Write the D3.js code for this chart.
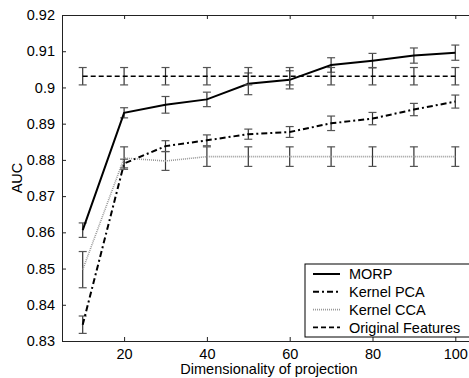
<!DOCTYPE html>
<html>
<head>
<meta charset="utf-8">
<script src="https://cdn.jsdelivr.net/npm/d3@7"></script>
<style>
  body { margin: 0; background: #fff; }
  svg { display: block; font-family: "Liberation Sans", Arial, sans-serif; }
</style>
</head>
<body>
<div id="container"></div>
<script>
// data
const dims = [10, 20, 30, 40, 50, 60, 70, 80, 90, 100];
const morp     = [0.8606, 0.8930, 0.8952, 0.8967, 0.9010, 0.9021, 0.9062, 0.9074, 0.9088, 0.9096];
const morpErr  = [0.0020, 0.0014, 0.0023, 0.0020, 0.0030, 0.0025, 0.0020, 0.0020, 0.0021, 0.0021];
const kpca     = [0.8345, 0.8790, 0.8838, 0.8854, 0.8871, 0.8877, 0.8901, 0.8914, 0.8939, 0.8961];
const kpcaErr  = [0.0024, 0.0012, 0.0015, 0.0015, 0.0014, 0.0015, 0.0020, 0.0017, 0.0017, 0.0018];
const kcca     = [0.8497, 0.8805, 0.8797, 0.8809, 0.8809, 0.8809, 0.8809, 0.8809, 0.8809, 0.8809];
const kccaErr  = [0.0050, 0.0031, 0.0026, 0.0027, 0.0027, 0.0027, 0.0027, 0.0027, 0.0027, 0.0027];
const orig     = [0.9031, 0.9031, 0.9031, 0.9031, 0.9031, 0.9031, 0.9031, 0.9031, 0.9031, 0.9031];
const origErr  = [0.0024, 0.0024, 0.0024, 0.0024, 0.0024, 0.0024, 0.0024, 0.0024, 0.0024, 0.0024];
const xTicks = [20, 40, 60, 80, 100];
const yTicks = [0.83, 0.84, 0.85, 0.86, 0.87, 0.88, 0.89, 0.9, 0.91, 0.92];
const legendNames = ["MORP", "Kernel PCA", "Kernel CCA", "Original Features"];

const WIDTH = 469, HEIGHT = 378;
const margin = { top: 15, left: 62, bottom: 37, right: -7 };
const width = WIDTH - margin.left - margin.right,
      height = HEIGHT - margin.top - margin.bottom;

const svg = d3.select('#container').append('svg')
    .attr('width', WIDTH).attr('height', HEIGHT);

const g = svg.append('g')
    .attr('transform', `translate(${margin.left},${margin.top})`);

const x = d3.scaleLinear().domain([5, 105]).range([0, width]);
const y = d3.scaleLinear().domain([0.83, 0.92]).range([height, 0]);

// axes, matlab style: ticks inward, on all four sides
const fmt = d => String(+d.toFixed(2));
g.append('g').attr('transform', `translate(0,${height})`)
    .call(d3.axisBottom(x).tickValues(xTicks).tickSizeInner(-4).tickSizeOuter(0).tickPadding(8))
    .call(a => a.selectAll('text').attr('font-size', 14.5).attr('fill', '#000').attr('font-family', null));
g.append('g')
    .call(d3.axisTop(x).tickValues(xTicks).tickSizeInner(-4).tickSizeOuter(0).tickFormat(''));
g.append('g')
    .call(d3.axisLeft(y).tickValues(yTicks).tickSizeInner(-4).tickSizeOuter(0).tickPadding(7).tickFormat(fmt))
    .call(a => a.selectAll('text').attr('font-size', 14.5).attr('fill', '#000').attr('font-family', null));
g.append('g').attr('transform', `translate(${width},0)`)
    .call(d3.axisRight(y).tickValues(yTicks).tickSizeInner(-4).tickSizeOuter(0).tickFormat(''));
g.selectAll('.domain, .tick line').attr('stroke', '#222');

const series = [
  { name: legendNames[0], vals: morp, err: morpErr, color: '#000', w: 2, dash: null },
  { name: legendNames[1], vals: kpca, err: kpcaErr, color: '#000', w: 2, dash: '6,3,2,3' },
  { name: legendNames[2], vals: kcca, err: kccaErr, color: '#999', w: 1.6, dash: '1,1' },
  { name: legendNames[3], vals: orig, err: origErr, color: '#000', w: 1.6, dash: '5,3' }
];

const line = d3.line().x(d => x(d.x)).y(d => y(d.v));

series.forEach(s => {
  const pts = dims.map((d, i) => ({ x: d, v: s.vals[i], e: s.err[i] }));
  const eb = g.append('g');
  pts.forEach(p => {
    eb.append('line').attr('x1', x(p.x)).attr('x2', x(p.x))
      .attr('y1', y(p.v - p.e)).attr('y2', y(p.v + p.e))
      .attr('stroke', '#333').attr('stroke-width', 1.2);
    [p.v - p.e, p.v + p.e].forEach(v => {
      eb.append('line').attr('x1', x(p.x) - 4).attr('x2', x(p.x) + 4)
        .attr('y1', y(v)).attr('y2', y(v))
        .attr('stroke', '#555').attr('stroke-width', 1.2);
    });
  });
  g.append('path').datum(pts)
    .attr('d', line).attr('fill', 'none')
    .attr('stroke', s.color).attr('stroke-width', s.w)
    .attr('stroke-dasharray', s.dash);
});

// legend
const lg = svg.append('g').attr('transform', 'translate(305,264)');
lg.append('rect').attr('width', 175).attr('height', 73)
    .attr('fill', '#fff').attr('stroke', '#000').attr('stroke-width', 1);
series.forEach((s, i) => {
  const yy = 10 + i * 17.8;
  lg.append('line').attr('x1', 8).attr('x2', 35).attr('y1', yy).attr('y2', yy)
    .attr('stroke', s.color).attr('stroke-width', s.w).attr('stroke-dasharray', s.dash);
  lg.append('text').attr('x', 44).attr('y', yy).attr('dy', '0.36em')
    .attr('font-size', 14.5).text(s.name);
});

// axis labels
svg.append('text').attr('x', margin.left + width / 2).attr('y', HEIGHT - 4)
    .attr('text-anchor', 'middle').attr('font-size', 14.5)
    .text('Dimensionality of projection');
svg.append('text').attr('transform', `translate(22,${margin.top + height / 2}) rotate(-90)`)
    .attr('text-anchor', 'middle').attr('font-size', 14.5)
    .text('AUC');
</script>
</body>
</html>
